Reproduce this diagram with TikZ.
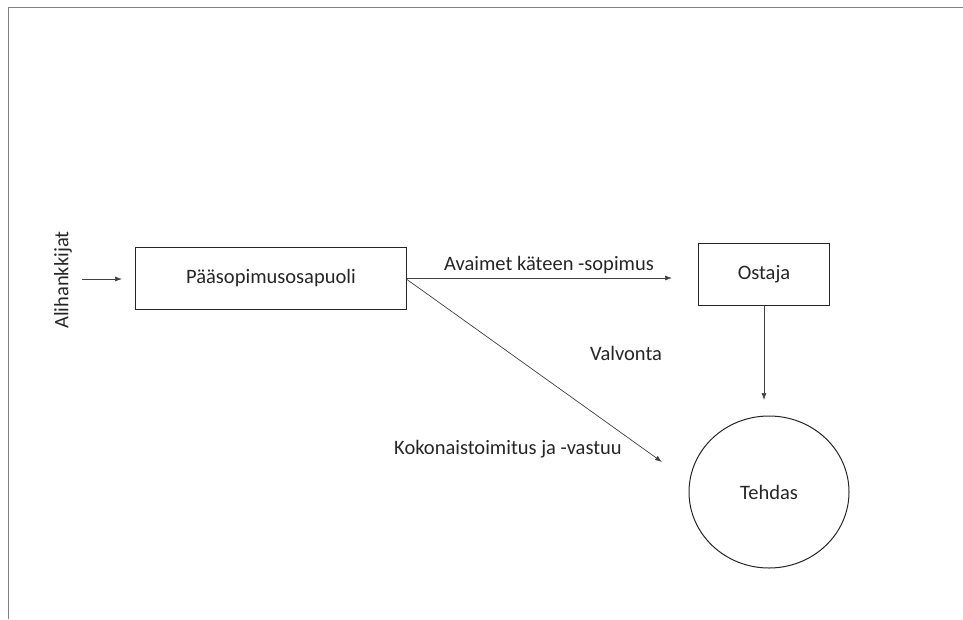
\documentclass[tikz,border=0pt]{standalone}
\usepackage{fontspec}
\setmainfont{Carlito}
\usetikzlibrary{arrows.meta,shapes.geometric}
\begin{document}
\begin{tikzpicture}[x=1pt,y=-1pt,
  every node/.style={font=\fontsize{20.5}{24}\selectfont, text=black!85},
  box/.style={draw=black!85, line width=1pt, inner sep=0pt},
  conn/.style={draw=black!75, line width=0.7pt, -{Latex[length=7pt,width=5pt]}},
  lbl/.style={inner sep=1pt},
  frameline/.style={draw=black!50, line width=1.6pt}]
\useasboundingbox (0,0) rectangle (963,619);
% page frame
\draw[frameline] (8.5,619) -- (8.5,7.5) -- (963,7.5);
% nodes
\node[box, minimum width=271pt, minimum height=62pt] (main) at (271,278.5) {Pääsopimusosapuoli};
\node[box, minimum width=131pt, minimum height=62pt] (buyer) at (764,274) {Ostaja};
\node[draw=black!85, line width=1pt, ellipse, minimum width=160pt, minimum height=152pt, inner sep=0pt] (plant) at (769,492) {Tehdas};
\node[lbl, rotate=90] (subs) at (63,280) {Alihankkijat};
% connector end points
\coordinate (subsstart) at (82,279);
\coordinate (subsend) at (122,279);
\coordinate (contractend) at (672,278);
\coordinate (deliveryend) at (662,462);
\coordinate (supervisionend) at (764,400);
% connectors
\draw[conn] (subsstart) -- (subsend);
\draw[conn] (main.east |- contractend) -- (contractend);
\draw[conn] ([yshift=-1pt]main.east) -- (deliveryend);
\draw[conn] (buyer.south) -- (supervisionend);
% connector labels
\node[lbl] (contract) at (549,265) {Avaimet käteen -sopimus};
\node[lbl] (supervision) at (626,353) {Valvonta};
\node[lbl] (delivery) at (508,449) {Kokonaistoimitus ja -vastuu};
\end{tikzpicture}
\end{document}
